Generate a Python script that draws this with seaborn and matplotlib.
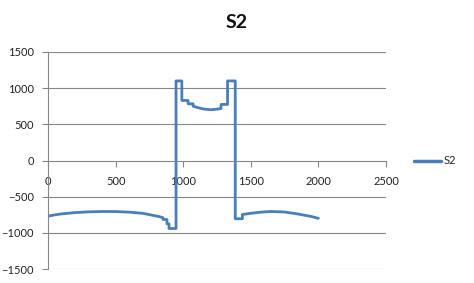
import matplotlib
matplotlib.use("Agg")
import matplotlib.pyplot as plt
import seaborn as sns
import pandas as pd

# Data
x_vals = [0, 50, 100, 200, 300, 400, 500, 600, 700, 760, 820, 850, 850, 880, 880, 895, 895,
          947, 947, 990, 990, 1036, 1036, 1073, 1073, 1110, 1150, 1200, 1240, 1280, 1280,
          1328, 1328, 1385, 1385, 1438, 1438, 1500, 1580, 1650, 1750, 1850, 1950, 2000]
y_vals = [-770, -752, -738, -720, -710, -705, -706, -714, -730, -752, -775, -790, -815, -815, -875, -875, -940,
          -940, 1100, 1100, 830, 830, 784, 784, 751, 730, 712, 702, 708, 718, 775,
          775, 1100, 1100, -805, -805, -747, -730, -713, -705, -712, -740, -775, -800]
series_name = "S2"
x_ticks = [0, 500, 1000, 1500, 2000, 2500]
y_ticks = [-1500, -1000, -500, 0, 500, 1000, 1500]

df = pd.DataFrame({"x": x_vals, "y": y_vals, "series": series_name})

sns.set_style("white")
plt.rcParams['font.family'] = ['Lato', 'DejaVu Sans']

fig = plt.figure(figsize=(4.74, 2.83), dpi=100)
ax = fig.add_axes([48/474, 1 - 269/283, (386 - 48)/474, (269 - 52)/283])

line_color = "#4A7EBB"
sns.lineplot(data=df, x="x", y="y", hue="series", palette=[line_color], sort=False,
             estimator=None, linewidth=2.0, ax=ax, legend=True)

ax.set_xlim(0, 2500)
ax.set_ylim(-1500, 1500)
ax.set_xticks(x_ticks)
ax.set_yticks(y_ticks)
ax.set_xlabel("")
ax.set_ylabel("")

grid_color = "#868686"
for yv in y_ticks:
    if yv != 0:
        ax.axhline(yv, color=grid_color, linewidth=0.8, zorder=0)

for s in ["top", "right"]:
    ax.spines[s].set_visible(False)
ax.spines["left"].set_color(grid_color)
ax.spines["left"].set_linewidth(0.8)
ax.spines["bottom"].set_position(("data", 0))
ax.spines["bottom"].set_color(grid_color)
ax.spines["bottom"].set_linewidth(0.8)

ax.tick_params(axis="y", direction="out", length=4, width=0.8, color=grid_color,
               pad=6, labelsize=8, labelcolor="#222222", left=True)
ax.tick_params(axis="x", direction="out", length=4, width=0.8, color=grid_color,
               pad=7, labelsize=8, labelcolor="#222222", bottom=True)

fig.text(237/474, 1 - 23/283, "S2", ha="center", va="center", fontsize=14,
         fontweight="bold", color="#111111")

leg = ax.legend(loc="center left", bbox_to_anchor=(414/474, 1 - 161/283),
                bbox_transform=fig.transFigure, frameon=False, fontsize=8,
                handlelength=2.4, handletextpad=0.3, borderaxespad=0, borderpad=0)
for h in leg.get_lines():
    h.set_linewidth(2.5)

fig.savefig("out.png", dpi=100)
